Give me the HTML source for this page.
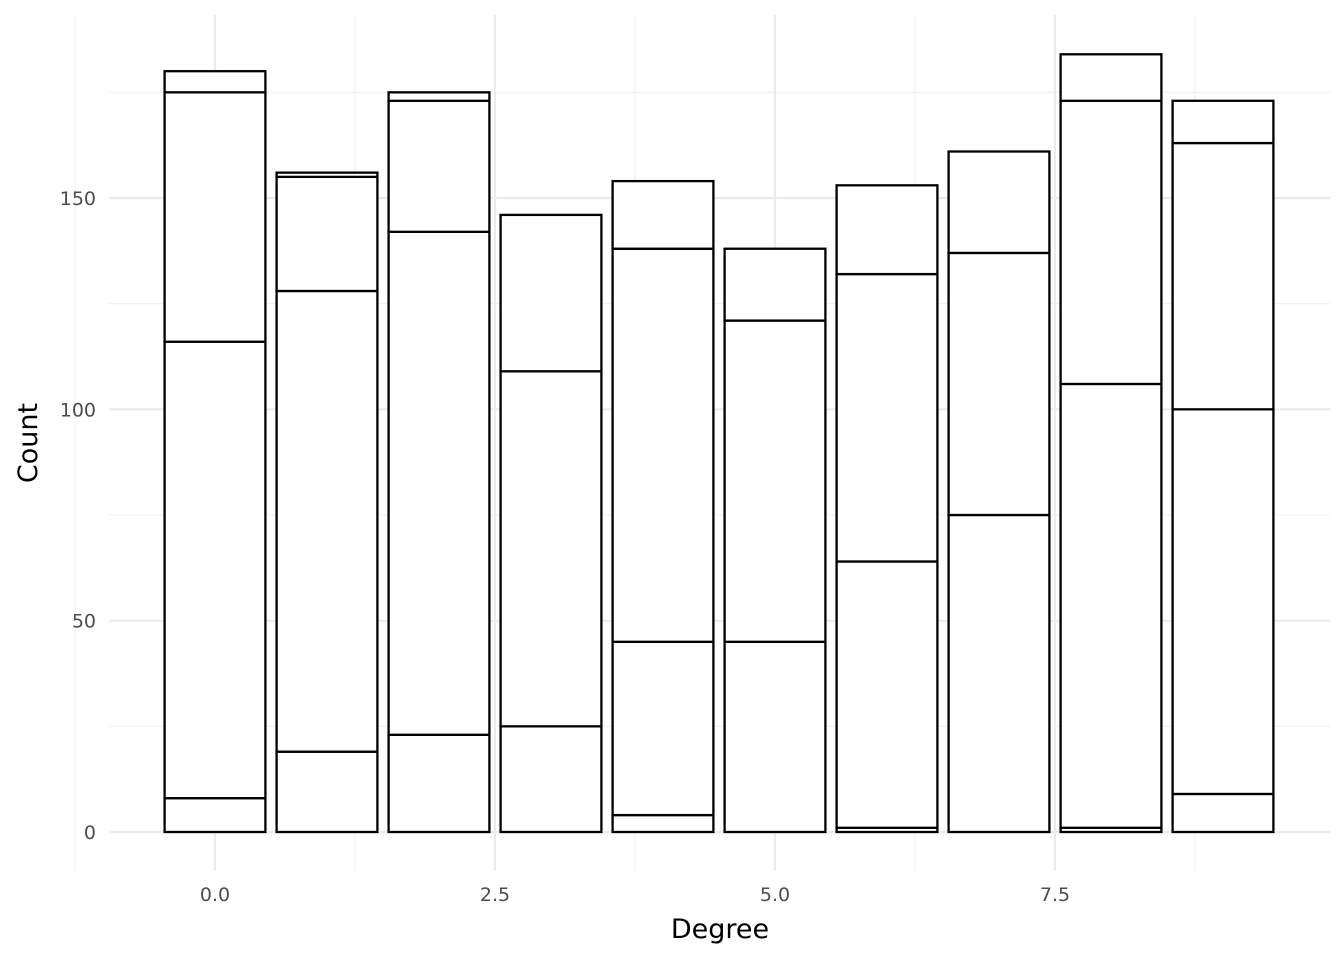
<!DOCTYPE html>
<html><head><meta charset="utf-8">
<style>
html,body{margin:0;padding:0;background:#fff;}
svg{display:block;font-family:"DejaVu Sans","Liberation Sans",sans-serif;}
</style></head>
<body>
<svg id="chart" width="1344" height="960" viewBox="0 0 1344 960" xmlns="http://www.w3.org/2000/svg">
<g id="grid"></g>
<g id="bars"></g>
<g id="axes"></g>
<text x="720" y="938" font-size="27" text-anchor="middle" fill="#000">Degree</text>
<text transform="translate(37,443) rotate(-90)" font-size="27" text-anchor="middle" fill="#000">Count</text>
</svg>
<script>
const categories = [0,1,2,3,4,5,6,7,8,9];
const seriesA = [8,19,23,25,4,0,1,0,1,9];
const seriesB = [108,109,119,84,41,45,63,75,105,91];
const seriesC = [59,27,31,37,93,76,68,62,67,63];
const seriesD = [5,1,2,0,16,17,21,24,11,10];
const xTicks = [0,2.5,5,7.5];
const xTickLabels = ["0.0","2.5","5.0","7.5"];
const yTicks = [0,50,100,150];
const yTickLabels = ["0","50","100","150"];

const NS="http://www.w3.org/2000/svg";
const X0=215, XU=112, Y0=832, YU=(832-198)/150;
const plotLeft=109, plotRight=1330, plotTop=15, plotBottom=871;
const xs=v=>X0+v*XU;
const ys=v=>Y0-v*YU;
function mk(tag,attrs,parent){const e=document.createElementNS(NS,tag);for(const k in attrs)e.setAttribute(k,attrs[k]);parent.appendChild(e);return e;}
const gridG=document.getElementById('grid'), barsG=document.getElementById('bars'), axesG=document.getElementById('axes');

for(let i=0;i<yTicks.length;i++){
  const v=yTicks[i]+25;
  const l=mk('line',{x1:plotLeft,x2:plotRight,y1:ys(v),y2:ys(v),stroke:'#f0f0f0','stroke-width':1.1},gridG);
  
  
}
for(let i=-1;i<xTicks.length;i++){
  const v=(i<0?xTicks[0]-1.25:xTicks[i]+1.25);
  const l=mk('line',{x1:xs(v),x2:xs(v),y1:plotTop,y2:plotBottom,stroke:'#f0f0f0','stroke-width':1.1},gridG);
  
  
}
yTicks.forEach((v,i)=>{
  const l=mk('line',{x1:plotLeft,x2:plotRight,y1:ys(v),y2:ys(v),stroke:'#ebebeb','stroke-width':2.2},gridG);
  
  
  const t=mk('text',{x:96,y:ys(v)+7,'font-size':19,'text-anchor':'end',fill:'#4d4d4d'},axesG);
  t.textContent=yTickLabels[i];
  
  
});
xTicks.forEach((v,i)=>{
  const l=mk('line',{x1:xs(v),x2:xs(v),y1:plotTop,y2:plotBottom,stroke:'#ebebeb','stroke-width':2.2},gridG);
  
  
  const t=mk('text',{x:xs(v),y:901,'font-size':19,'text-anchor':'middle',fill:'#4d4d4d'},axesG);
  t.textContent=xTickLabels[i];
  
  
});
const series=[seriesA,seriesB,seriesC,seriesD];
categories.forEach((c,i)=>{
  let cum=0;
  series.forEach((s,k)=>{
    const v=s[i]; if(v<=0){return;}
    const r=mk('rect',{x:xs(c-0.45),y:ys(cum+v),width:xs(c+0.45)-xs(c-0.45),height:ys(cum)-ys(cum+v),fill:'#fff',stroke:'#000','stroke-width':2.3},barsG);
    
    
    cum+=v;
  });
});
</script>
</body></html>
